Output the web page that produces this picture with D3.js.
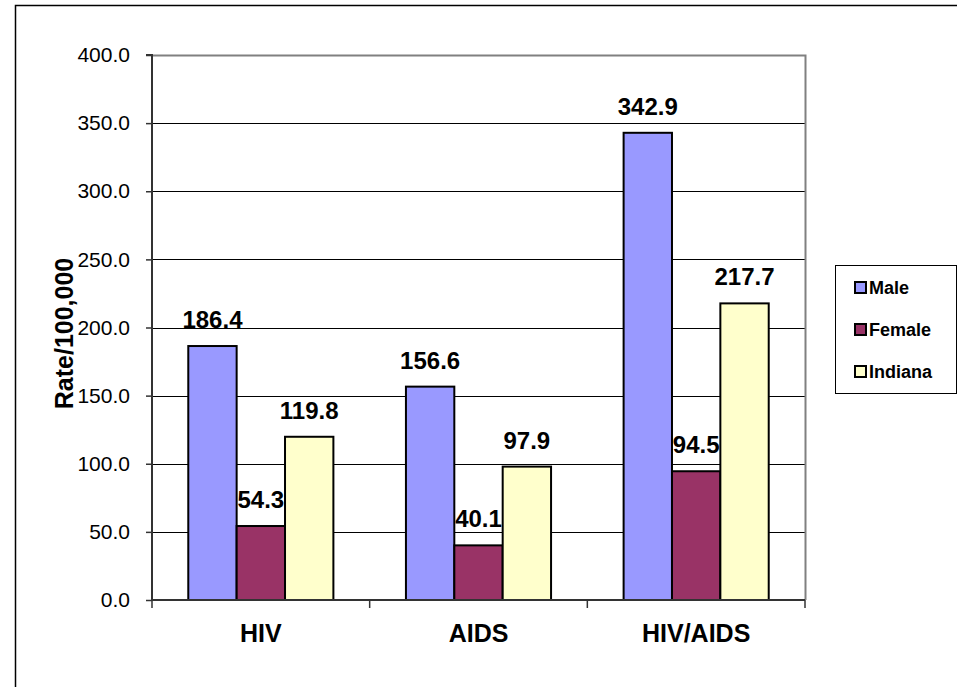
<!DOCTYPE html>
<html><head><meta charset="utf-8">
<script src="https://cdn.jsdelivr.net/npm/d3@7"></script>
<style>body{margin:0;background:#fff}svg{display:block;font-family:Arial,"Liberation Sans",sans-serif}</style>
</head><body><svg id="c" width="957" height="687"></svg>
<script>
const categories = ["HIV", "AIDS", "HIV/AIDS"];
const seriesNames = ["Male", "Female", "Indiana"];
const male = [186.4, 156.6, 342.9];
const female = [54.3, 40.1, 94.5];
const indiana = [119.8, 97.9, 217.7];
const yTicks = [0, 50, 100, 150, 200, 250, 300, 350, 400];
const colors = ["#9999FF", "#993366", "#FFFFCC"];
const seriesValues = [male, female, indiana];

const svg = d3.select("#c");
const L = 152, R = 805, T = 55, B = 600;

// outer chart border
svg.append("rect").attr("x", 15.5).attr("y", 5.5).attr("width", 1000).attr("height", 1000)
  .attr("fill", "none").attr("stroke", "#000").attr("stroke-width", 1.5);

const x0 = d3.scaleBand().domain(categories).range([L, R]).paddingInner(0).paddingOuter(0);
const bw = x0.bandwidth() / 4.5;
const y = d3.scaleLinear().domain([0, 400]).range([B, T]);

// gridlines
svg.append("g").selectAll("line").data(yTicks.filter(d => d > 0 && d < 400)).join("line")
  .attr("x1", L).attr("x2", R).attr("y1", d => Math.round(y(d)) + 0.5).attr("y2", d => Math.round(y(d)) + 0.5)
  .attr("stroke", "#000").attr("stroke-width", 1);

// plot frame top/right gray
svg.append("path").attr("d", `M${L},${T + 0.5}H${R + 0.5}V${B}`)
  .attr("fill", "none").attr("stroke", "#808080").attr("stroke-width", 2);

// bars
const rows = [];
categories.forEach((c, i) => seriesValues.forEach((s, j) => rows.push({c, j, v: s[i]})));
svg.append("g").selectAll("rect").data(rows).join("rect")
  .attr("x", d => x0(d.c) + bw * 0.75 + d.j * bw)
  .attr("y", d => y(d.v))
  .attr("width", bw).attr("height", d => B - y(d.v))
  .attr("fill", d => colors[d.j]).attr("stroke", "#000").attr("stroke-width", 2);

// value labels
svg.append("g").selectAll("text").data(rows).join("text")
  .attr("x", d => x0(d.c) + bw * 0.75 + d.j * bw + bw / 2)
  .attr("y", d => y(d.v) - 18)
  .attr("text-anchor", "middle").attr("font-weight", "bold").attr("font-size", 24)
  .text(d => d.v.toFixed(1));

// y axis
const yAxis = d3.axisLeft(y).tickValues(yTicks).tickFormat(d => d.toFixed(1)).tickSize(6).tickPadding(16);
const gy = svg.append("g").attr("transform", `translate(${L},0)`).call(yAxis);
gy.select(".domain").attr("stroke", "#333").attr("stroke-width", 2).attr("d", `M-6,${T}H0V${B}`);
gy.selectAll(".tick line").attr("stroke", "#333").attr("stroke-width", 1.5);
gy.selectAll(".tick text").attr("font-size", 21).attr("fill", "#000").attr("font-family", "Arial, 'Liberation Sans', sans-serif");

// x axis
const xAxis = d3.axisBottom(x0).tickSize(0).tickPadding(24);
const gx = svg.append("g").attr("transform", `translate(0,${B})`).call(xAxis);
gx.select(".domain").attr("stroke", "#333").attr("stroke-width", 2).attr("d", `M${L},0H${R}`);
gx.selectAll(".tick text").attr("font-size", 25).attr("font-weight", "bold").attr("fill", "#000")
  .attr("font-family", "Arial, 'Liberation Sans', sans-serif");
// category boundary ticks
const bounds = categories.map(c => x0(c)).concat([R]);
svg.append("g").selectAll("line").data(bounds).join("line")
  .attr("x1", d => d).attr("x2", d => d).attr("y1", B).attr("y2", B + 8)
  .attr("stroke", "#333").attr("stroke-width", 1.5);

// y title
svg.append("text").attr("transform", `translate(73,${(T + B) / 2 + 6}) rotate(-90)`)
  .attr("text-anchor", "middle").attr("font-weight", "bold").attr("font-size", 25)
  .text("Rate/100,000");

// legend
const lg = svg.append("g");
lg.append("rect").attr("x", 835.5).attr("y", 265.5).attr("width", 121).attr("height", 128)
  .attr("fill", "#fff").attr("stroke", "#000").attr("stroke-width", 1);
seriesNames.forEach((n, i) => {
  const yy = 294 + i * 42;
  lg.append("rect").attr("x", 855).attr("y", yy - 12).attr("width", 11).attr("height", 11)
    .attr("fill", colors[i]).attr("stroke", "#000").attr("stroke-width", 2);
  lg.append("text").attr("x", 869).attr("y", yy).attr("font-weight", "bold").attr("font-size", 18).text(n);
});
</script></body></html>
